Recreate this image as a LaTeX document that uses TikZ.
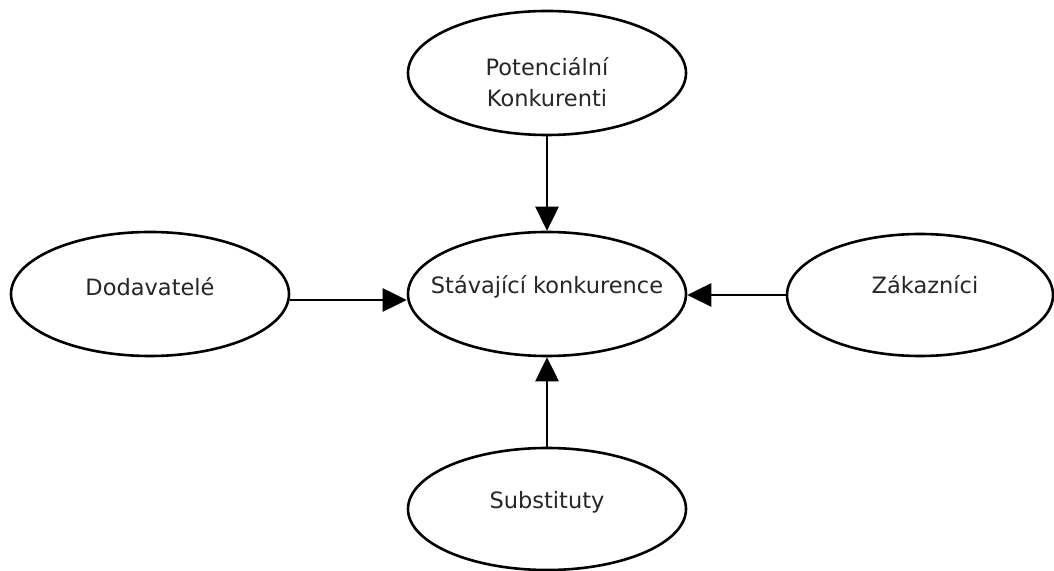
\documentclass[tikz,border=0pt]{standalone}
\usepackage{fontspec}
\setmainfont{DejaVu Sans}
\usetikzlibrary{shapes.geometric,arrows.meta}
\begin{document}
\begin{tikzpicture}[x=1pt,y=1pt,
  ell/.style={draw=black,line width=2.6pt,ellipse,inner sep=0pt,minimum width=278pt,minimum height=124pt},
  lbl/.style={text=black!85,font=\fontsize{22.5}{31}\selectfont,align=center},
  conn/.style={draw=black,line width=2.8pt,-{Triangle[length=24pt,width=23pt]}}]
\path[fill=white,use as bounding box] (0,0) rectangle (1054,570);
\node[ell] (top) at (547,497) {};
\node[ell] (cen) at (547,276) {};
\node[ell] (dod) at (150,276) {};
\node[ell,minimum width=266pt,minimum height=122pt] (zak) at (920,275) {};
\node[ell,minimum height=122pt] (sub) at (547,61) {};
\node[lbl] (ttop) at (547,488) {Potenciální\\Konkurenti};
\node[lbl] (tcen) at (547,283) {Stávající konkurence};
\node[lbl] (tdod) at (150,283) {Dodavatelé};
\node[lbl] (tzak) at (925,285) {Zákazníci};
\node[lbl] (tsub) at (547,68) {Substituty};
\draw[conn] (top.south) -- (cen.north);
\draw[conn] (sub.north) -- (cen.south);
\draw[conn] ([yshift=-6pt]dod.east) -- ([yshift=-6pt]cen.west);
\draw[conn] (zak.west) -- (cen.east |- zak.west);
\end{tikzpicture}
\end{document}
